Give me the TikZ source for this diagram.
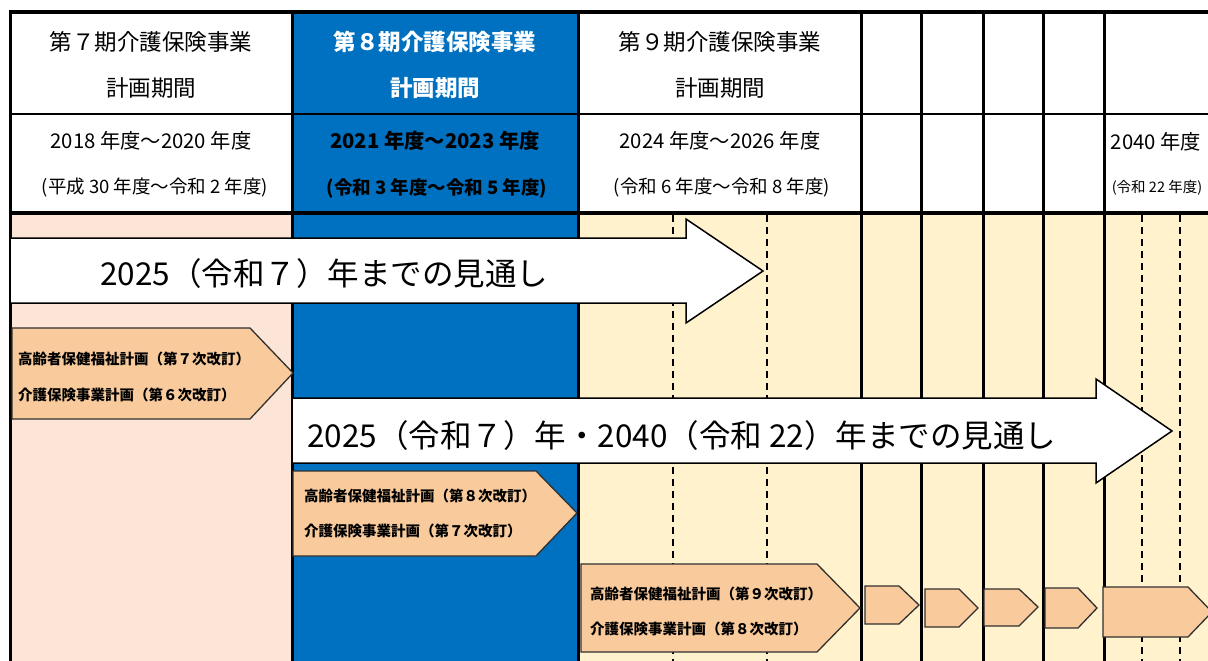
\documentclass[tikz,border=0pt]{standalone}
\usepackage{fontspec}
\setmainfont{Noto Sans CJK JP}
\definecolor{pinkbg}{HTML}{FCE4D6}
\definecolor{bluebg}{HTML}{0070C0}
\definecolor{yellowbg}{HTML}{FFF2CC}
\definecolor{peach}{HTML}{F9CB9C}
\definecolor{edge}{HTML}{303030}
\tikzset{
  gridthick/.style={line width=4pt},
  gridthin/.style={line width=2.5pt},
  colline/.style={line width=3pt},
  dashline/.style={line width=1.5pt, dash pattern=on 7pt off 5pt},
  bigarrow/.style={draw=black, fill=white, line width=1.5pt, line join=miter},
  pent/.style={draw=edge, fill=peach, line width=1.3pt, line join=miter},
  hdone/.style={font=\fontsize{22.5}{24}\selectfont, inner sep=0pt},
  hdtwo/.style={font=\fontsize{20.3}{22}\selectfont, inner sep=0pt},
  hdthree/.style={font=\fontsize{18.5}{20}\selectfont, inner sep=0pt},
  bigtext/.style={font=\fontsize{31.5}{33}\selectfont, inner sep=0pt, anchor=west},
  penttext/.style={font=\bfseries\fontsize{14.5}{16}\selectfont, inner sep=0pt, anchor=west},
}
\begin{document}
\begin{tikzpicture}[x=1pt,y=-1pt]
\useasboundingbox (0,0) rectangle (1208,661);
\clip (0,0) rectangle (1208,661);
% backgrounds
\fill[white] (0,0) rectangle (1208,661);
\fill[pinkbg] (10,213) rectangle (292,661);
\fill[bluebg] (292,12) rectangle (578,661);
\fill[yellowbg] (578,213) rectangle (1208,661);
% dashed guides
\foreach \xx in {673,767,1142,1180} {
  \draw[dashline] (\xx,215) -- (\xx,661);
}
% grid
\foreach \xx in {10,292,578,861,921,983,1043,1104} {
  \draw[colline] (\xx,12) -- (\xx,661);
}
\draw[gridthick] (8.5,12) -- (1208,12);
\draw[gridthin] (10,114) -- (1208,114);
\draw[gridthick] (8.5,213) -- (1208,213);
% header texts
\node[hdone] (h1a) at (151,42) {第７期介護保険事業};
\node[hdone] (h1b) at (151,88) {計画期間};
\node[hdone, text=white, font=\bfseries\fontsize{22.5}{24}\selectfont] (h2a) at (435,42) {第８期介護保険事業};
\node[hdone, text=white, font=\bfseries\fontsize{22.5}{24}\selectfont] (h2b) at (435,88) {計画期間};
\node[hdone] (h3a) at (720,42) {第９期介護保険事業};
\node[hdone] (h3b) at (720,88) {計画期間};
\node[hdtwo] (y1a) at (151,141) {2018 年度～2020 年度};
\node[hdthree] (y1b) at (155,188) {(平成 30 年度～令和 2 年度)};
\node[hdtwo, font=\bfseries\fontsize{20.3}{22}\selectfont] (y2a) at (435,141) {2021 年度～2023 年度};
\node[hdthree, font=\bfseries\fontsize{18.5}{20}\selectfont] (y2b) at (437,188) {(令和 3 年度～令和 5 年度)};
\node[hdtwo] (y3a) at (720,141) {2024 年度～2026 年度};
\node[hdthree] (y3b) at (722,188) {(令和 6 年度～令和 8 年度)};
\node[hdtwo] (y8a) at (1156,142) {2040 年度};
\node[inner sep=0pt, font=\fontsize{14.5}{16}\selectfont] (y8b) at (1157,188) {(令和 22 年度)};
% big arrow 1
\draw[bigarrow] (10,238) -- (686,238) -- (686,219) -- (763,271) -- (686,323) -- (686,303) -- (10,303) -- cycle;
\node[bigtext] (a1) at (100,274) {2025（令和７）年までの見通し};
% pentagon 1
\draw[pent] (12,328) -- (250,328) -- (293,373) -- (250,419) -- (12,419) -- cycle;
\node[penttext] (p1a) at (18,359) {高齢者保健福祉計画（第７次改訂）};
\node[penttext] (p1b) at (18,395) {介護保険事業計画（第６次改訂）};
% big arrow 2
\draw[bigarrow] (292,398) -- (1096,398) -- (1096,379) -- (1172,431) -- (1096,483) -- (1096,463) -- (292,463) -- cycle;
\node[bigtext] (a2) at (307,436) {2025（令和７）年・2040（令和 22）年までの見通し};
% pentagon 2
\draw[pent] (293,471) -- (536,471) -- (577,513) -- (536,556) -- (293,556) -- cycle;
\node[penttext] (p2a) at (304,496) {高齢者保健福祉計画（第８次改訂）};
\node[penttext] (p2b) at (304,531) {介護保険事業計画（第７次改訂）};
% pentagon 3
\draw[pent] (581,564) -- (817,564) -- (860,608) -- (817,652) -- (581,652) -- cycle;
\node[penttext] (p3a) at (590,594) {高齢者保健福祉計画（第９次改訂）};
\node[penttext] (p3b) at (590,629) {介護保険事業計画（第８次改訂）};
% small pentagons
\draw[pent] (865,586) -- (899,586) -- (919,605) -- (899,624) -- (865,624) -- cycle;
\draw[pent] (925,589) -- (959,589) -- (978,608) -- (959,627) -- (925,627) -- cycle;
\draw[pent] (984,589) -- (1019,589) -- (1038,607) -- (1019,626) -- (984,626) -- cycle;
\draw[pent] (1045,588) -- (1078,588) -- (1097,608) -- (1078,628) -- (1045,628) -- cycle;
\draw[pent] (1103,587) -- (1188,587) -- (1212,612) -- (1188,637) -- (1103,637) -- cycle;
\end{tikzpicture}
\end{document}
